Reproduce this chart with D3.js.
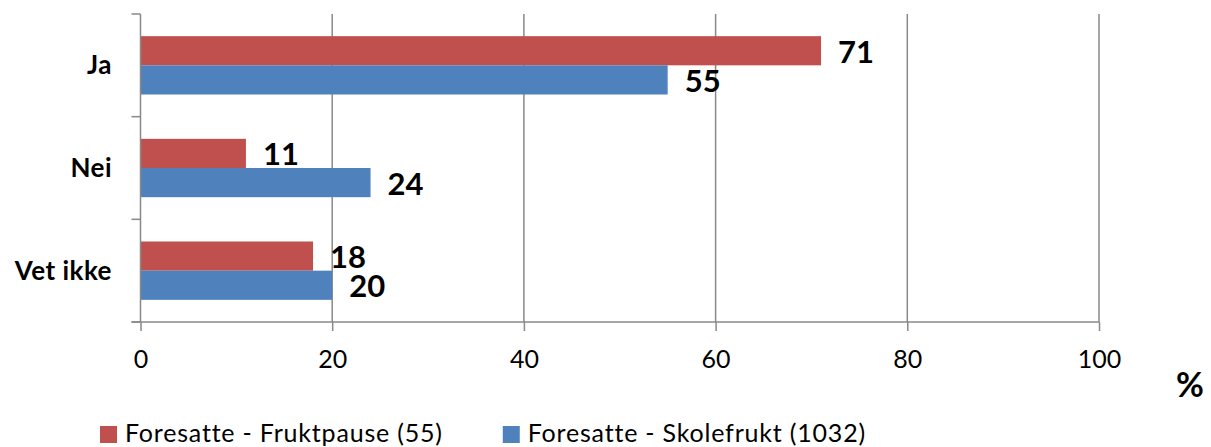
<!DOCTYPE html>
<html>
<head>
<meta charset="utf-8">
<style>
  body { margin: 0; background: #fff; }
  svg { display: block; font-family: Lato, "Open Sans", sans-serif; }
</style>
</head>
<body>
<svg width="1211" height="447"></svg>
<script src="https://d3js.org/d3.v7.min.js"></script>
<script>

var categories = ["Ja", "Nei", "Vet ikke"];
var seriesNames = ["Foresatte - Fruktpause (55)", "Foresatte - Skolefrukt (1032)"];
var fruktpause = [71, 11, 18];
var skolefrukt = [55, 24, 20];
var xTicks = [0, 20, 40, 60, 80, 100];
var colors = ["#C0504D", "#4F81BD"];

var svg = d3.select("svg"),
    plotLeft = 140.5, plotRight = 1099,
    plotTop = 14, plotBottom = 322,
    gridColor = "#898989";

var x = d3.scaleLinear().domain([0, 100]).range([plotLeft, plotRight]);
var y = d3.scaleBand().domain(categories).range([plotTop, plotBottom]);
var ySub = d3.scaleBand().domain([0, 1]).range([0, y.bandwidth()]).paddingInner(0).paddingOuter(0.76);

var rows = categories.map(function(c, i) {
  return {cat: c, vals: [fruktpause[i], skolefrukt[i]]};
});

// vertical gridlines
svg.append("g")
  .selectAll("line")
  .data(xTicks.slice(1))
  .enter().append("line")
    .attr("x1", function(d) { return x(d); })
    .attr("x2", function(d) { return x(d); })
    .attr("y1", plotTop)
    .attr("y2", plotBottom)
    .attr("stroke", gridColor)
    .attr("stroke-width", 1.5);

// bars
var groups = svg.append("g")
  .selectAll("g")
  .data(rows)
  .enter().append("g")
    .attr("transform", function(d) { return "translate(0," + y(d.cat) + ")"; });

groups.selectAll("rect")
  .data(function(d) { return d.vals; })
  .enter().append("rect")
    .attr("x", x(0))
    .attr("y", function(d, i) { return ySub(i); })
    .attr("width", function(d) { return x(d) - x(0); })
    .attr("height", ySub.bandwidth())
    .attr("fill", function(d, i) { return colors[i]; });

groups.selectAll("text")
  .data(function(d) { return d.vals; })
  .enter().append("text")
    .attr("x", function(d) { return x(d) + 17; })
    .attr("y", function(d, i) { return ySub(i) + ySub.bandwidth() / 2 + 12; })
    .attr("font-size", 31)
    .attr("font-weight", "bold")
    .attr("fill", "#000")
    .text(function(d) { return d; });

// bottom axis
var xAxis = d3.axisBottom(x).tickValues(xTicks).tickSizeInner(9).tickSizeOuter(0);
var gx = svg.append("g")
    .attr("transform", "translate(0," + plotBottom + ")")
    .call(xAxis);
gx.select(".domain").attr("d", "M" + (plotLeft - 9) + ",0H" + plotRight).attr("stroke", gridColor).attr("stroke-width", 1.5);
gx.selectAll(".tick line").attr("stroke", gridColor).attr("stroke-width", 1.5);
gx.selectAll(".tick text")
    .attr("y", 46).attr("dy", null)
    .attr("font-size", 25)
    .attr("font-family", "Lato, sans-serif")
    .attr("fill", "#000");

// left axis with ticks at category boundaries
var gy = svg.append("g");
gy.append("line")
    .attr("x1", plotLeft).attr("x2", plotLeft)
    .attr("y1", plotTop).attr("y2", plotBottom)
    .attr("stroke", gridColor).attr("stroke-width", 1.5);
gy.selectAll(".bound")
  .data(categories.map(function(c) { return y(c); }).concat([plotBottom]))
  .enter().append("line")
    .attr("x1", plotLeft - 9).attr("x2", plotLeft)
    .attr("y1", function(d) { return d; })
    .attr("y2", function(d) { return d; })
    .attr("stroke", gridColor).attr("stroke-width", 1.5);
gy.selectAll("text")
  .data(categories)
  .enter().append("text")
    .attr("x", 112)
    .attr("y", function(d) { return y(d) + y.bandwidth() / 2 + 9; })
    .attr("text-anchor", "end")
    .attr("font-size", 26)
    .attr("letter-spacing", 0.5)
    .attr("font-weight", "bold")
    .text(function(d) { return d; });

// unit
svg.append("text")
    .attr("x", 1176).attr("y", 397)
    .attr("font-size", 34)
    .attr("font-weight", "bold")
    .text("%");

// legend
var lx = 100;
seriesNames.forEach(function(name, i) {
  svg.append("rect")
      .attr("x", lx).attr("y", 426)
      .attr("width", 17).attr("height", 17)
      .attr("fill", colors[i]);
  var t = svg.append("text")
      .attr("x", lx + 25).attr("y", 442)
      .attr("font-size", 25)
      .attr("letter-spacing", 0.8)
      .text(name);
  lx = lx + 25 + t.node().getComputedTextLength() + 60;
});

</script>
</body>
</html>
